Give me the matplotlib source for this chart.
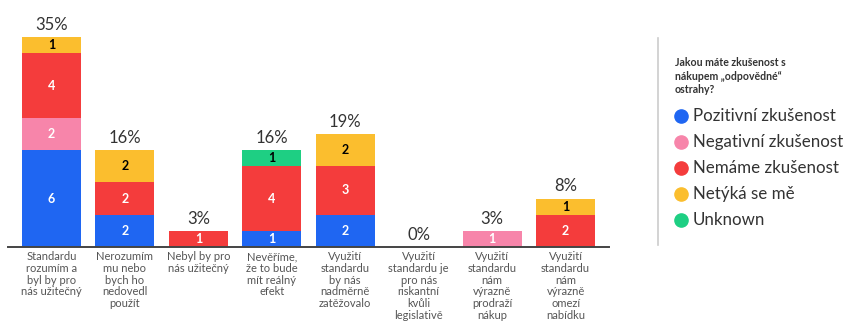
import numpy as np
import matplotlib.pyplot as plt
from matplotlib.lines import Line2D

plt.rcParams['font.family'] = ['Lato', 'DejaVu Sans']

# answers per reason, split by experience with "responsible" security purchase
categories = [
    "Standardu\nrozumím a\nbyl by pro\nnás užitečný",
    "Nerozumím\nmu nebo\nbych ho\nnedovedl\npoužít",
    "Nebyl by pro\nnás užitečný",
    "Nevěříme,\nže to bude\nmít reálný\nefekt",
    "Využití\nstandardu\nby nás\nnadměrně\nzatěžovalo",
    "Využití\nstandardu je\npro nás\nriskantní\nkvůli\nlegislativě",
    "Využití\nstandardu\nnám\nvýrazně\nprodraží\nnákup",
    "Využití\nstandardu\nnám\nvýrazně\nomezí\nnabídku",
]
pozitivni = [6, 2, 0, 1, 2, 0, 0, 0]
negativni = [2, 0, 0, 0, 0, 0, 1, 0]
nemame = [4, 2, 1, 4, 3, 0, 0, 2]
netyka = [1, 2, 0, 0, 2, 0, 0, 1]
unknown = [0, 0, 0, 1, 0, 0, 0, 0]
respondents = 37

series = [
    ("Pozitivní zkušenost", pozitivni, "#1f66f2", "white"),
    ("Negativní zkušenost", negativni, "#f785aa", "white"),
    ("Nemáme zkušenost", nemame, "#f43c3c", "white"),
    ("Netýká se mě", netyka, "#fbbe2e", "black"),
    ("Unknown", unknown, "#1ecf83", "black"),
]
legend_title = "Jakou máte zkušenost s\nnákupem „odpovědné“\nostrahy?"

fig = plt.figure(figsize=(8.5, 3.22), dpi=100)
ax = fig.add_axes([8 / 850, 75 / 322, 601 / 850, 226 / 322])

x = np.arange(len(categories))
bottom = np.zeros(len(categories))
for name, vals, col, tcol in series:
    vals = np.array(vals, dtype=float)
    ax.bar(x, vals, 0.8, bottom=bottom, color=col, linewidth=0)
    for xi, v, b in zip(x, vals, bottom):
        if v > 0:
            ax.text(xi, b + v / 2, f"{int(v)}", ha="center", va="center",
                    color=tcol, fontsize=9, fontweight="bold")
    bottom += vals

for xi, tot in zip(x, bottom):
    pct = round(100 * tot / respondents)
    ax.annotate(f"{pct}%", (xi, tot), xytext=(0, 3), textcoords="offset points",
                ha="center", va="bottom", fontsize=12, color="#333333")

ax.set_xlim(-0.59, 7.59)
ax.set_ylim(0, 14)
ax.set_yticks([])
ax.set_xticks(x)
ax.set_xticklabels(categories, fontsize=8, color="#555555", linespacing=1.08)
ax.tick_params(axis="x", length=0, pad=3)
for s in ["top", "right", "left"]:
    ax.spines[s].set_visible(False)
ax.spines["bottom"].set_color("#444444")
ax.spines["bottom"].set_linewidth(1.4)

# legend panel on the right
fig.add_artist(Line2D([658 / 850, 658 / 850], [1 - 38 / 322, 1 - 245 / 322],
                      color="#cccccc", linewidth=1.2))
fig.text(675 / 850, 1 - 57 / 322, legend_title, fontsize=7.6, fontweight="bold",
         color="#333333", va="top", ha="left", linespacing=1.3)
for i, (name, vals, col, tcol) in enumerate(series):
    yy = 1 - (116 + i * 26) / 322
    fig.add_artist(Line2D([681 / 850], [yy], marker="o", markersize=9.5,
                          color=col, linestyle="none"))
    fig.text(693 / 850, yy, name, fontsize=12.2, color="#333333",
             va="center", ha="left")

fig.savefig("out.png", dpi=100)
